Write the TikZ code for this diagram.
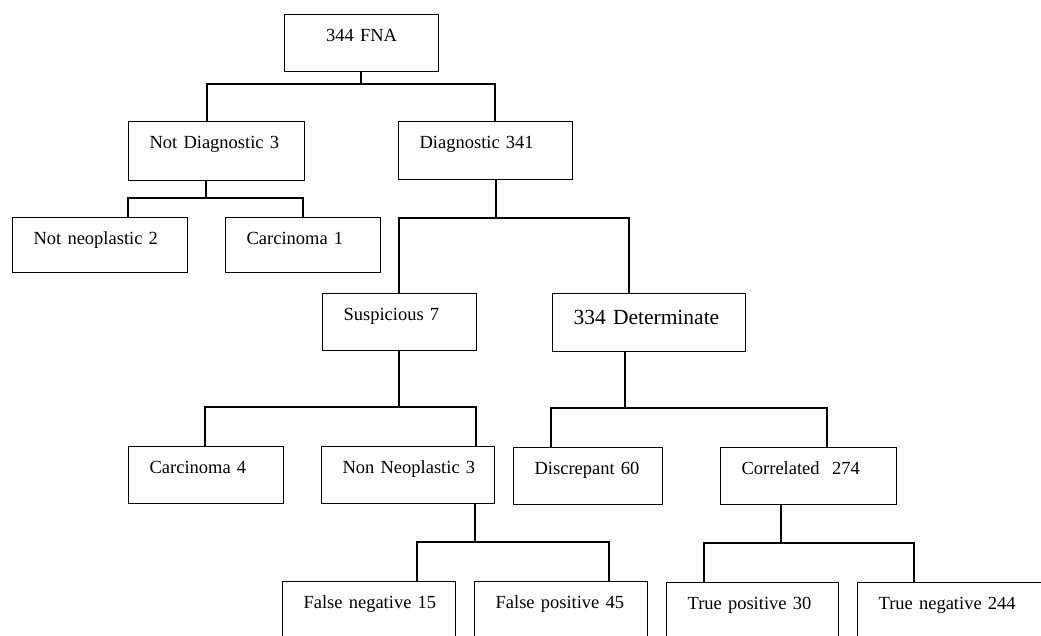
\documentclass[tikz,border=0pt]{standalone}
\usepackage{fontspec}
\setmainfont{Liberation Serif}
\usepackage{tikz}

\tikzset{
	plainbox/.style={draw, line width=1.2pt, anchor=north west, inner xsep=0pt, inner ysep=0pt,
		align=left, text height=27pt, text depth=#1,
		font=\fontsize{18.5}{22}\selectfont},
	plainbox/.default=30pt,
	box/.style={plainbox=#1, execute at begin node={\hspace*{21pt}}},
	box/.default=30pt,
	link/.style={line width=1.2pt}
}

\begin{document}
\begin{tikzpicture}[x=1pt, y=-1pt]
	\useasboundingbox (0,0) rectangle (1041,635);
	\clip (0,0) rectangle (1041,635);

	\node[plainbox=30pt, text width=154pt, align=center] (fna) at (284,14) {344 FNA};

	\node[box=32pt, text width=176pt] (notdiag) at (128,121) {Not Diagnostic 3};
	\node[box=31pt, text width=174pt] (diag) at (398,121) {Diagnostic 341};

	\node[box=28pt, text width=175pt] (notneo) at (12,217) {Not neoplastic 2};
	\node[box=28pt, text width=155pt] (carcone) at (225,217) {Carcinoma 1};

	\node[box=30pt, text width=154pt] (susp) at (322,293) {Suspicious 7};
	\node[box=27pt, text width=193pt, text height=31pt, font=\fontsize{21.5}{26}\selectfont] (determ) at (552,293) {334 Determinate};

	\node[box, text width=155pt] (carcfour) at (128,446) {Carcinoma 4};
	\node[box, text width=173pt] (nonneo) at (321,446) {Non Neoplastic 3};
	\node[box, text width=149pt] (discr) at (513,447) {Discrepant 60};
	\node[box, text width=176pt] (corr) at (720,447) {Correlated\ \ 274};

	\node[box=42pt, text width=173pt] (fneg) at (282,581) {False negative 15};
	\node[box=42pt, text width=173pt] (fpos) at (474,581) {False positive 45};
	\node[box=42pt, text width=172pt] (tpos) at (666,582) {True positive 30};
	\node[box=42pt, text width=188pt] (tneg) at (857,582) {True negative 244};

	\draw[link] (fna.south -| 361,0) -- (361,84);
	\draw[link] (notdiag.north -| 207,0) |- (495,84) -- (diag.north -| 495,0);

	\draw[link] (notdiag.south -| 206,0) -- (206,198);
	\draw[link] (notneo.north -| 128,0) |- (303,198) -- (carcone.north -| 303,0);

	\draw[link] (diag.south -| 496,0) -- (496,218);
	\draw[link] (susp.north -| 399,0) |- (629,218) -- (determ.north -| 629,0);

	\draw[link] (susp.south -| 399,0) -- (399,407);
	\draw[link] (carcfour.north -| 205,0) |- (476,407) -- (nonneo.north -| 476,0);

	\draw[link] (determ.south -| 625,0) -- (625,408);
	\draw[link] (discr.north -| 551,0) |- (827,408) -- (corr.north -| 827,0);

	\draw[link] (nonneo.south -| 475,0) -- (475,542);
	\draw[link] (fneg.north -| 417,0) |- (609,542) -- (fpos.north -| 609,0);

	\draw[link] (corr.south -| 781,0) -- (781,543);
	\draw[link] (tpos.north -| 704,0) |- (914,543) -- (tneg.north -| 914,0);
\end{tikzpicture}
\end{document}
